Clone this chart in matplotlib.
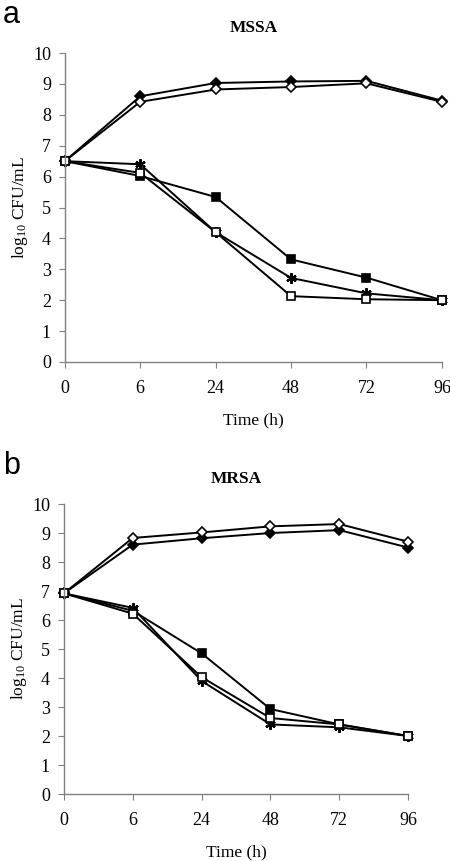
import matplotlib
matplotlib.use("Agg")
import matplotlib.pyplot as plt

plt.rcParams['font.family'] = ['Liberation Serif', 'DejaVu Serif']
plt.rcParams['mathtext.fontset'] = 'custom'
plt.rcParams['mathtext.rm'] = 'Liberation Serif'
plt.rcParams['mathtext.it'] = 'Liberation Serif:italic'

time_labels = ['0', '6', '24', '48', '72', '96']

# Panel a: MSSA
mssa_filled_diamond = [6.5, 8.6, 9.03, 9.08, 9.1, 8.46]
mssa_open_diamond = [6.5, 8.42, 8.82, 8.9, 9.02, 8.42]
mssa_filled_square = [6.5, 6.02, 5.34, 3.32, 2.73, 2.0]
mssa_star = [6.5, 6.4, 4.2, 2.72, 2.22, 2.0]
mssa_open_square = [6.5, 6.12, 4.2, 2.13, 2.03, 2.0]

# Panel b: MRSA
mrsa_open_diamond = [6.92, 8.83, 9.02, 9.23, 9.31, 8.7]
mrsa_filled_diamond = [6.92, 8.6, 8.82, 9.0, 9.1, 8.5]
mrsa_filled_square = [6.92, 6.32, 4.85, 2.93, 2.4, 2.0]
mrsa_star = [6.92, 6.42, 3.9, 2.4, 2.3, 2.0]
mrsa_open_square = [6.92, 6.22, 4.03, 2.62, 2.4, 2.0]

fig = plt.figure(figsize=(4.5, 8.61), dpi=100)

def style_series(ax, x, ys_list):
    specs = [
        dict(marker='D', mfc='black', ms=5),
        dict(marker='D', mfc='white', ms=5),
        dict(marker='s', mfc='black', ms=6),
        dict(marker=(6, 2, 0), mfc='black', ms=7.5, mew=1.6),
        dict(marker='s', mfc='white', ms=6),
    ]
    for ys, sp in zip(ys_list, specs):
        ax.plot(x, ys, color='black', lw=1.4, mec='black',
                mew=sp.pop('mew', 1.2), **sp)

def setup(ax, title):
    x = list(range(len(time_labels)))
    ax.set_xlim(0, len(time_labels) - 1)
    ax.set_ylim(0, 10)
    ax.set_xticks(x)
    ax.set_xticklabels(time_labels)
    ax.set_yticks(range(0, 11))
    for s in ['top', 'right']:
        ax.spines[s].set_visible(False)
    for s in ['left', 'bottom']:
        ax.spines[s].set_color('#808080')
        ax.spines[s].set_linewidth(1.0)
    ax.tick_params(direction='out', length=4, color='#808080', labelsize=13, pad=6)
    ax.tick_params(axis='x', pad=9)
    ax.set_title(title, fontsize=12.5, fontweight='bold', pad=15)
    ax.set_xlabel('Time (h)', fontsize=12.5, labelpad=11)
    ax.set_ylabel(r'log$_{10}$ CFU/mL', fontsize=12.5, labelpad=2)
    for lbl in ax.get_xticklabels() + ax.get_yticklabels():
        lbl.set_clip_on(False)
    return x

ax1 = fig.add_axes([0.144, 0.5796, 0.838, 0.3588])
x = setup(ax1, 'MSSA')
style_series(ax1, x, [mssa_filled_diamond, mssa_open_diamond, mssa_filled_square,
                      mssa_star, mssa_open_square])
for ln in ax1.lines:
    ln.set_clip_on(False)

ax2 = fig.add_axes([0.142, 0.0778, 0.765, 0.3368])
x = setup(ax2, 'MRSA')
style_series(ax2, x, [mrsa_filled_diamond, mrsa_open_diamond, mrsa_filled_square,
                      mrsa_star, mrsa_open_square])
for ln in ax2.lines:
    ln.set_clip_on(False)

fig.text(0.006, 0.982, 'a', fontsize=22, family='Liberation Sans', va='center', ha='left')
fig.text(0.006, 0.459, 'b', fontsize=22, family='Liberation Sans', va='center', ha='left')

fig.savefig('out.png', dpi=100)
